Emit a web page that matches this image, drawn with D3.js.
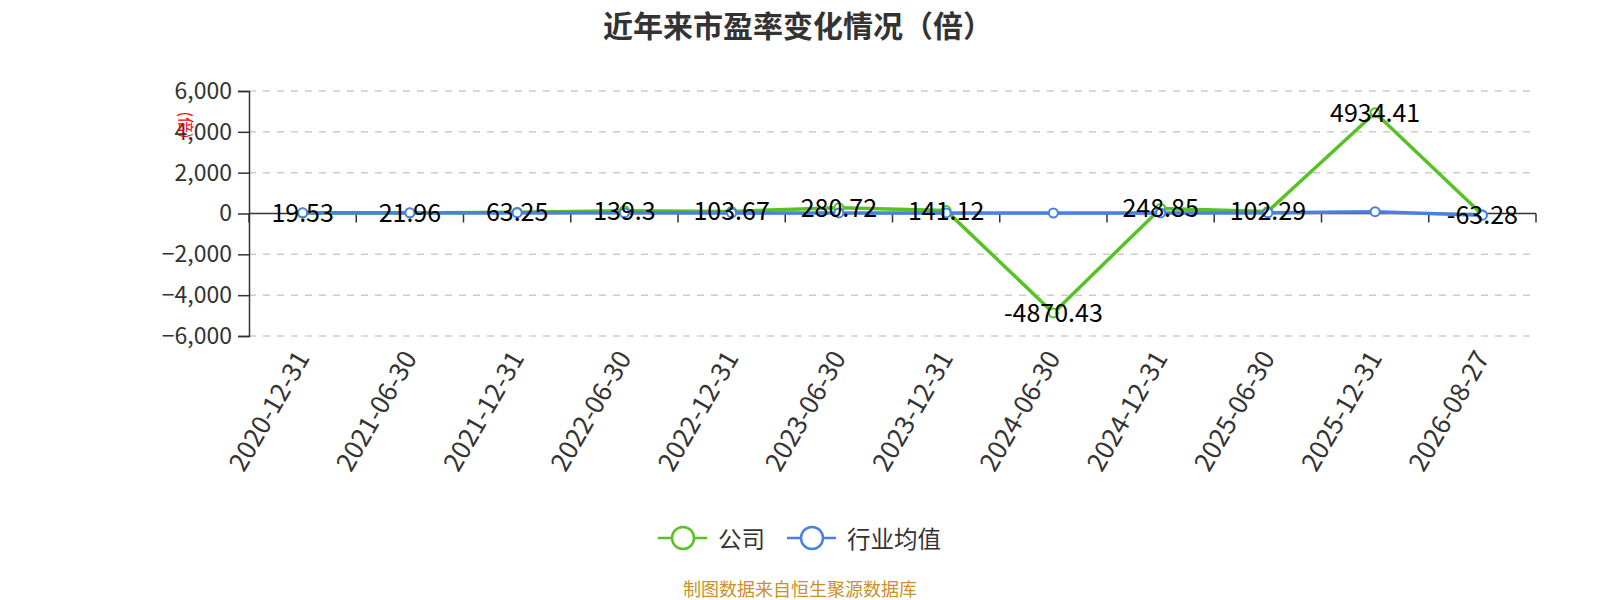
<!DOCTYPE html>
<html>
<head>
<meta charset="utf-8">
<script src="https://cdn.jsdelivr.net/npm/d3@7.9.0/dist/d3.min.js"></script>
<style>
  body { margin: 0; background: #fff; }
  svg { display: block; font-family: "Noto Sans CJK SC", "Noto Sans", sans-serif; }
</style>
</head>
<body>
<div id="chart"></div>
<script>
const dates = ['2020-12-31', '2021-06-30', '2021-12-31', '2022-06-30', '2022-12-31', '2023-06-30',
  '2023-12-31', '2024-06-30', '2024-12-31', '2025-06-30', '2025-12-31', '2026-08-27'];
const companyPE = [19.53, 21.96, 63.25, 139.3, 103.67, 280.72, 141.12, -4870.43, 248.85, 102.29, 4934.41, -63.28];
const industryPE = [35, 38, 40, 35, 30, 28, 30, 25, 28, 32, 90, -80];
const yTicks = [-6000, -4000, -2000, 0, 2000, 4000, 6000];

const width = 1600, height = 600;
const margin = { top: 91, right: 64, bottom: 264, left: 249 };
const green = '#56c224', blue = '#4a80e2';

const svg = d3.select('#chart').append('svg')
  .attr('width', width)
  .attr('height', height);

const x = d3.scaleBand()
  .domain(dates)
  .range([margin.left, width - margin.right]);

const y = d3.scaleLinear()
  .domain([-6000, 6000])
  .range([height - margin.bottom, margin.top]);

const cx = d => x(d) + x.bandwidth() / 2;

// title
svg.append('text')
  .attr('x', 603).attr('y', 24)
  .attr('dominant-baseline', 'central')
  .attr('font-size', 30).attr('font-weight', 'bold')
  .attr('fill', '#333')
  .text('近年来市盈率变化情况（倍）');

// gridlines
svg.append('g')
  .selectAll('line')
  .data(yTicks.filter(d => d !== 0))
  .join('line')
  .attr('x1', margin.left).attr('x2', width - margin.right)
  .attr('y1', d => y(d)).attr('y2', d => y(d))
  .attr('stroke', '#ccc')
  .attr('stroke-width', 1.5)
  .attr('stroke-dasharray', '7,7');

// y axis
const yAxis = svg.append('g')
  .attr('transform', `translate(${margin.left},0)`)
  .call(d3.axisLeft(y).tickValues(yTicks).tickSize(11).tickPadding(6).tickFormat(d3.format(',')));
yAxis.select('.domain').attr('stroke', '#333').attr('stroke-width', 1.5);
yAxis.selectAll('.tick line').attr('stroke', '#333').attr('stroke-width', 1.5);
yAxis.selectAll('.tick text')
  .attr('font-size', 23).attr('fill', '#333')
  .attr('font-family', '"Noto Sans CJK SC", "Noto Sans", sans-serif');

// y axis unit name
svg.append('text')
  .attr('transform', 'translate(187,125) rotate(90)')
  .attr('text-anchor', 'middle')
  .attr('dominant-baseline', 'central')
  .attr('font-size', 16)
  .attr('fill', '#ff0000')
  .text('(倍)');

// x axis at zero
const xAxis = svg.append('g')
  .attr('transform', `translate(0,${y(0)})`);
xAxis.append('line')
  .attr('x1', margin.left).attr('x2', width - margin.right)
  .attr('stroke', '#333').attr('stroke-width', 1.5);
xAxis.selectAll('line.tk')
  .data(dates.concat(['end']))
  .join('line')
  .attr('class', 'tk')
  .attr('x1', (d, i) => margin.left + i * x.bandwidth())
  .attr('x2', (d, i) => margin.left + i * x.bandwidth())
  .attr('y1', 0).attr('y2', 9)
  .attr('stroke', '#333').attr('stroke-width', 1.5);

// x labels
svg.append('g')
  .selectAll('text')
  .data(dates)
  .join('text')
  .attr('transform', d => `translate(${cx(d) - 2},${height - margin.bottom + 16}) rotate(-60)`)
  .attr('text-anchor', 'end')
  .attr('dominant-baseline', 'central')
  .attr('font-size', 26)
  .attr('fill', '#333')
  .text(d => d);

// lines
const line = d3.line().x((d, i) => cx(dates[i])).y(d => y(d));

function drawSeries(values, color) {
  svg.append('path')
    .datum(values)
    .attr('d', line)
    .attr('fill', 'none')
    .attr('stroke', color)
    .attr('stroke-width', 3.5)
    .attr('stroke-linejoin', 'round');
  svg.append('g')
    .selectAll('circle')
    .data(values)
    .join('circle')
    .attr('cx', (d, i) => cx(dates[i]))
    .attr('cy', d => y(d))
    .attr('r', 4.5)
    .attr('fill', '#fff')
    .attr('stroke', color)
    .attr('stroke-width', 2);
}

drawSeries(companyPE, green);
drawSeries(industryPE, blue);

// data labels
svg.append('g')
  .selectAll('text')
  .data(companyPE)
  .join('text')
  .attr('x', (d, i) => cx(dates[i]))
  .attr('y', d => y(d) - 2)
  .attr('text-anchor', 'middle')
  .attr('dominant-baseline', 'central')
  .attr('font-size', 25)
  .attr('fill', '#000')
  .text(d => d);

// legend
const legend = [
  { name: '公司', color: green, x: 658 },
  { name: '行业均值', color: blue, x: 787 }
];
const lg = svg.append('g')
  .selectAll('g')
  .data(legend)
  .join('g')
  .attr('transform', d => `translate(${d.x},538)`);
lg.append('line')
  .attr('x1', 0).attr('x2', 49)
  .attr('stroke', d => d.color).attr('stroke-width', 2.5);
lg.append('circle')
  .attr('cx', 25).attr('r', 11)
  .attr('fill', '#fff')
  .attr('stroke', d => d.color).attr('stroke-width', 2.5);
lg.append('text')
  .attr('x', 60)
  .attr('dominant-baseline', 'central')
  .attr('font-size', 23.5)
  .attr('fill', '#333')
  .text(d => d.name);

// footer
svg.append('text')
  .attr('x', 683).attr('y', 588)
  .attr('dominant-baseline', 'central')
  .attr('font-size', 18)
  .attr('fill', '#c9902c')
  .text('制图数据来自恒生聚源数据库');
</script>
</body>
</html>
